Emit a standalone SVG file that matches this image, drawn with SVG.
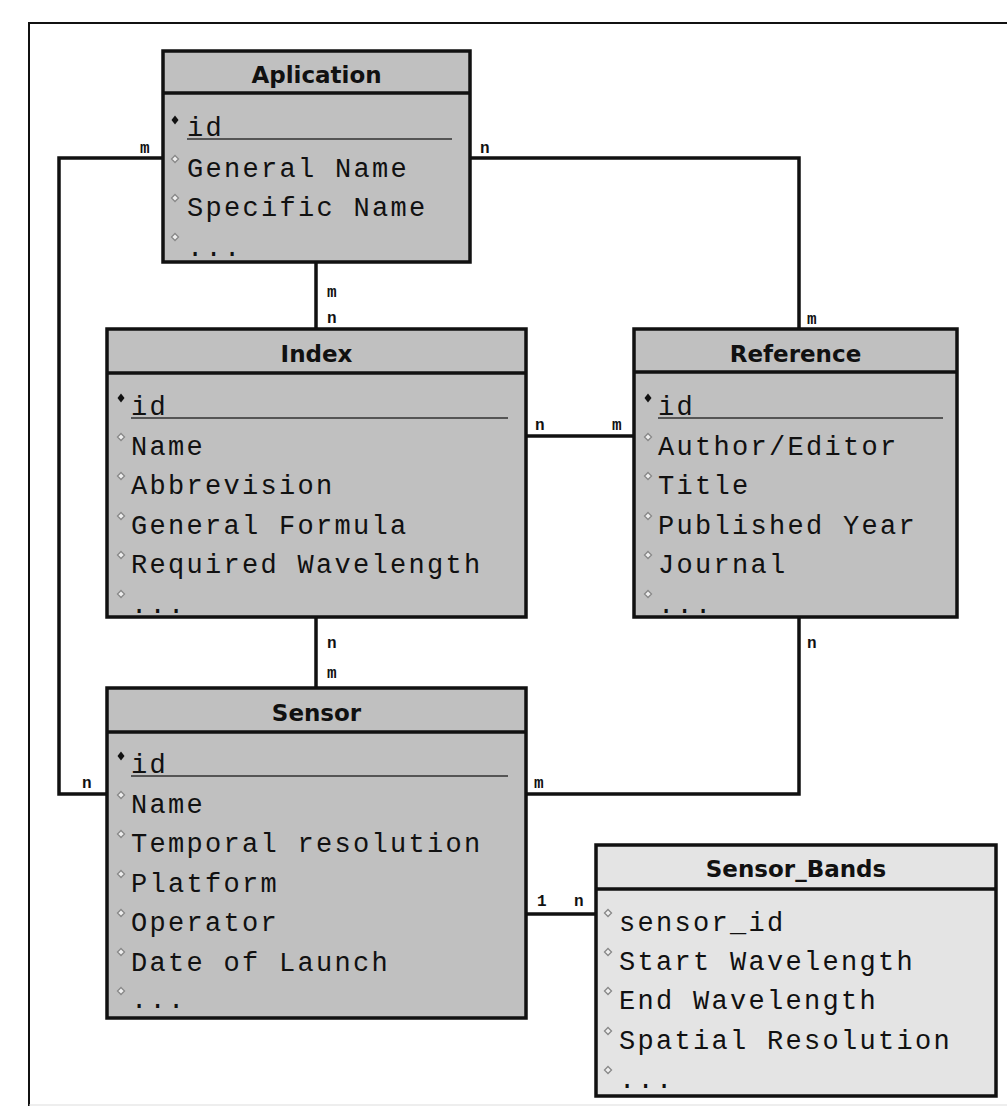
<svg xmlns="http://www.w3.org/2000/svg" xmlns:xlink="http://www.w3.org/1999/xlink" width="1007" height="1106" viewBox="0 0 1007 1106">
<style>
.box{fill:#c0c0c0;stroke:#111;stroke-width:3.5}
.box2{fill:#e4e4e4;stroke:#111;stroke-width:3.5}
.sep{stroke:#111;stroke-width:3.5}
.ul{stroke:#555;stroke-width:2.2}
.title{font-family:"DejaVu Sans",Verdana,sans-serif;font-weight:bold;font-size:23px;fill:#111;text-anchor:middle}
.attr{font-family:"Liberation Mono","Courier New",monospace;font-size:27px;letter-spacing:2.3px;fill:#111}
.card{font-family:"Liberation Mono","Courier New",monospace;font-size:16px;font-weight:bold;fill:#111}
.conn{fill:none;stroke:#111;stroke-width:3.5}
.frame{fill:none;stroke:#111;stroke-width:2}
</style>
<defs>
<path id="dk" d="M0,-4.5 L3.5,0 L0,4.5 L-3.5,0Z" fill="#111"/>
<path id="dh" d="M0,-3.5 L3.5,0 L0,3.5 L-3.5,0Z" fill="#eee" stroke="#888" stroke-width="1.3"/>
</defs>
<rect x="0" y="0" width="1007" height="1106" fill="#fff"/>
<path class="frame" d="M1007,23 H29 V1106"/>
<line x1="29" y1="1105" x2="1007" y2="1105" stroke="#ddd" stroke-width="1"/>

<g id="connectors">
<path class="conn" d="M163,158 H59 V794 H107"/>
<path class="conn" d="M470,158 H799 V329"/>
<path class="conn" d="M316,262 V329"/>
<path class="conn" d="M526,436 H634"/>
<path class="conn" d="M316,617 V688"/>
<path class="conn" d="M799,617 V794 H526"/>
<path class="conn" d="M526,914 H596"/>
<text class="card" x="140" y="153">m</text>
<text class="card" x="82" y="788">n</text>
<text class="card" x="480" y="153">n</text>
<text class="card" x="807" y="324">m</text>
<text class="card" x="327" y="297">m</text>
<text class="card" x="327" y="323">n</text>
<text class="card" x="535" y="430">n</text>
<text class="card" x="612" y="430">m</text>
<text class="card" x="327" y="648">n</text>
<text class="card" x="327" y="678">m</text>
<text class="card" x="807" y="648">n</text>
<text class="card" x="534" y="788">m</text>
<text class="card" x="537" y="906">1</text>
<text class="card" x="574" y="906">n</text>
</g>

<g id="aplication">
<rect class="box" x="163" y="51" width="307" height="211"/>
<line class="sep" x1="163" y1="93" x2="470" y2="93"/>
<text class="title" x="316.5" y="83">Aplication</text>
<use href="#dk" x="175" y="120"/>
<text class="attr" x="187" y="136">id</text>
<line class="ul" x1="187" y1="139" x2="452" y2="139"/>
<use href="#dh" x="175" y="159"/>
<text class="attr" x="187" y="177">General Name</text>
<use href="#dh" x="175" y="198"/>
<text class="attr" x="187" y="216">Specific Name</text>
<use href="#dh" x="175" y="237"/>
<text class="attr" x="187" y="256">...</text>
</g>

<g id="index">
<rect class="box" x="107" y="329" width="419" height="288"/>
<line class="sep" x1="107" y1="373" x2="526" y2="373"/>
<text class="title" x="316.5" y="362">Index</text>
<use href="#dk" x="121" y="398"/>
<text class="attr" x="131" y="415">id</text>
<line class="ul" x1="131" y1="418" x2="508" y2="418"/>
<use href="#dh" x="121" y="437"/>
<text class="attr" x="131" y="455">Name</text>
<use href="#dh" x="121" y="476"/>
<text class="attr" x="131" y="494">Abbrevision</text>
<use href="#dh" x="121" y="516"/>
<text class="attr" x="131" y="534">General Formula</text>
<use href="#dh" x="121" y="555"/>
<text class="attr" x="131" y="573">Required Wavelength</text>
<use href="#dh" x="121" y="594"/>
<text class="attr" x="131" y="613">...</text>
</g>

<g id="reference">
<rect class="box" x="634" y="329" width="323" height="288"/>
<line class="sep" x1="634" y1="372" x2="957" y2="372"/>
<text class="title" x="795.5" y="362">Reference</text>
<use href="#dk" x="648" y="398"/>
<text class="attr" x="658" y="415">id</text>
<line class="ul" x1="658" y1="418" x2="943" y2="418"/>
<use href="#dh" x="648" y="437"/>
<text class="attr" x="658" y="455">Author/Editor</text>
<use href="#dh" x="648" y="476"/>
<text class="attr" x="658" y="494">Title</text>
<use href="#dh" x="648" y="516"/>
<text class="attr" x="658" y="534">Published Year</text>
<use href="#dh" x="648" y="555"/>
<text class="attr" x="658" y="573">Journal</text>
<use href="#dh" x="648" y="594"/>
<text class="attr" x="658" y="613">...</text>
</g>

<g id="sensor">
<rect class="box" x="107" y="688" width="419" height="330"/>
<line class="sep" x1="107" y1="732" x2="526" y2="732"/>
<text class="title" x="316.5" y="721">Sensor</text>
<use href="#dk" x="121" y="756"/>
<text class="attr" x="131" y="773">id</text>
<line class="ul" x1="131" y1="776" x2="508" y2="776"/>
<use href="#dh" x="121" y="795"/>
<text class="attr" x="131" y="813">Name</text>
<use href="#dh" x="121" y="834"/>
<text class="attr" x="131" y="852">Temporal resolution</text>
<use href="#dh" x="121" y="874"/>
<text class="attr" x="131" y="892">Platform</text>
<use href="#dh" x="121" y="913"/>
<text class="attr" x="131" y="931">Operator</text>
<use href="#dh" x="121" y="952"/>
<text class="attr" x="131" y="971">Date of Launch</text>
<use href="#dh" x="121" y="991"/>
<text class="attr" x="131" y="1008">...</text>
</g>

<g id="sensor_bands">
<rect class="box2" x="596" y="845" width="400" height="251"/>
<line class="sep" x1="596" y1="889" x2="996" y2="889"/>
<text class="title" x="796" y="877">Sensor_Bands</text>
<use href="#dh" x="608" y="913"/>
<text class="attr" x="619" y="931">sensor_id</text>
<use href="#dh" x="608" y="952"/>
<text class="attr" x="619" y="970">Start Wavelength</text>
<use href="#dh" x="608" y="991"/>
<text class="attr" x="619" y="1009">End Wavelength</text>
<use href="#dh" x="608" y="1031"/>
<text class="attr" x="619" y="1049">Spatial Resolution</text>
<use href="#dh" x="608" y="1070"/>
<text class="attr" x="619" y="1088">...</text>
</g>
</svg>
